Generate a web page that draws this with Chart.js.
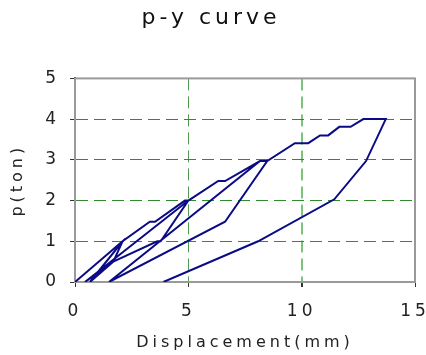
<!DOCTYPE html>
<html>
<head>
<meta charset="utf-8">
<script src="https://cdn.jsdelivr.net/npm/chart.js@4"></script>
<style>
  html, body { margin: 0; padding: 0; background: #fff; }
  #wrap { width: 426px; height: 355px; }
</style>
</head>
<body>
<div id="wrap"><canvas id="myChart" width="426" height="355"></canvas></div>
<script>
// p-y curve (displacement mm, load ton)
const dispMm = [0, 2.1, 1.69, 0.66, 2.1, 3.3, 3.53, 4.85, 5.0, 3.78, 3.63, 1.69, 0.44,
  5.0, 6.32, 6.62, 8.16, 8.48, 6.62, 1.5, 8.16, 8.48, 9.7, 10.29, 10.81, 11.17,
  11.66, 12.16, 12.72, 13.71, 12.84, 11.44, 8.08, 3.9];
const loadTon = [0, 1.0, 0.5, 0, 1.0, 1.48, 1.48, 2.0, 2.0, 1.0, 1.0, 0.5, 0,
  2.0, 2.48, 2.48, 2.97, 2.97, 1.48, 0, 2.97, 2.97, 3.41, 3.41, 3.6, 3.6,
  3.81, 3.81, 4.0, 4.0, 2.97, 2.03, 1.0, 0];
const xTicks = [0, 5, 10, 15];
const yTicks = [0, 1, 2, 3, 4, 5];

const points = dispMm.map((d, i) => ({ x: d, y: loadTon[i] }));

const fontFam = "'DejaVu Sans', sans-serif";

// spaced-out lettering like the original and a grey frame round the plot
const framePlugin = {
  id: "frame",
  beforeDraw(chart) {
    chart.ctx.letterSpacing = "4px";
  },
  beforeDatasetsDraw(chart) {
    const { ctx, chartArea } = chart;
    ctx.save();
    ctx.strokeStyle = "#9a9a9a";
    ctx.lineWidth = 2;
    ctx.strokeRect(chartArea.left, chartArea.top, chartArea.right - chartArea.left, chartArea.bottom - chartArea.top);
    ctx.restore();
  },
};

const config = {
  type: "scatter",
  data: {
    datasets: [
      {
        data: points,
        showLine: true,
        borderColor: "#0b0b86",
        borderWidth: 2,
        pointRadius: 0,
      },
    ],
  },
  options: {
    responsive: false,
    animation: false,
    layout: { padding: { left: 7, right: 11 } },
    plugins: {
      legend: { display: false },
      title: {
        display: true,
        text: "p-y curve",
        color: "#111",
        font: { family: fontFam, size: 22, weight: "normal" },
        padding: { top: 5, bottom: 47 },
      },
    },
    scales: {
      x: {
        type: "linear",
        min: 0,
        max: 15,
        afterBuildTicks: (s) => { s.ticks = xTicks.map((v) => ({ value: v })); },
        afterFit: (s) => { s.height = 73; s.paddingLeft = 0; s.paddingRight = 0; },
        ticks: { color: "#222", font: { family: fontFam, size: 17 }, padding: 14 },
        title: {
          display: true,
          text: "Displacement(mm)",
          color: "#222",
          font: { family: fontFam, size: 16 },
          padding: { top: 4, bottom: 3 },
        },
        grid: {
          color: (c) => (c.tick && (c.tick.value === 5 || c.tick.value === 10) ? (c.tick.value === 10 ? "#7cc47c" : "#4f9a4f") : "rgba(0,0,0,0)"),
          lineWidth: (c) => (c.tick && c.tick.value === 10 ? 2 : 1),
          tickColor: "#333",
          tickLength: 5,
        },
        border: { color: "#333", width: 2, dash: [12, 6] },
      },
      y: {
        type: "linear",
        min: 0,
        max: 5,
        afterBuildTicks: (s) => { s.ticks = yTicks.map((v) => ({ value: v })); },
        afterFit: (s) => { s.width = 68; s.paddingTop = 0; s.paddingBottom = 0; },
        ticks: { color: "#222", font: { family: fontFam, size: 17 }, padding: 10 },
        title: {
          display: true,
          text: "p(ton)",
          color: "#222",
          font: { family: fontFam, size: 16 },
          padding: { top: 1, bottom: 2 },
        },
        grid: {
          color: (c) => (c.tick && c.tick.value > 0 && c.tick.value < 5 ? "#2e8b2e" : "rgba(0,0,0,0)"),
          tickColor: "#333",
          tickLength: 5,
        },
        border: { color: "#333", width: 2, dash: [12, 6] },
      },
    },
  },
  plugins: [framePlugin],
};

const myChart = new Chart(document.getElementById("myChart"), config);
</script>
</body>
</html>
